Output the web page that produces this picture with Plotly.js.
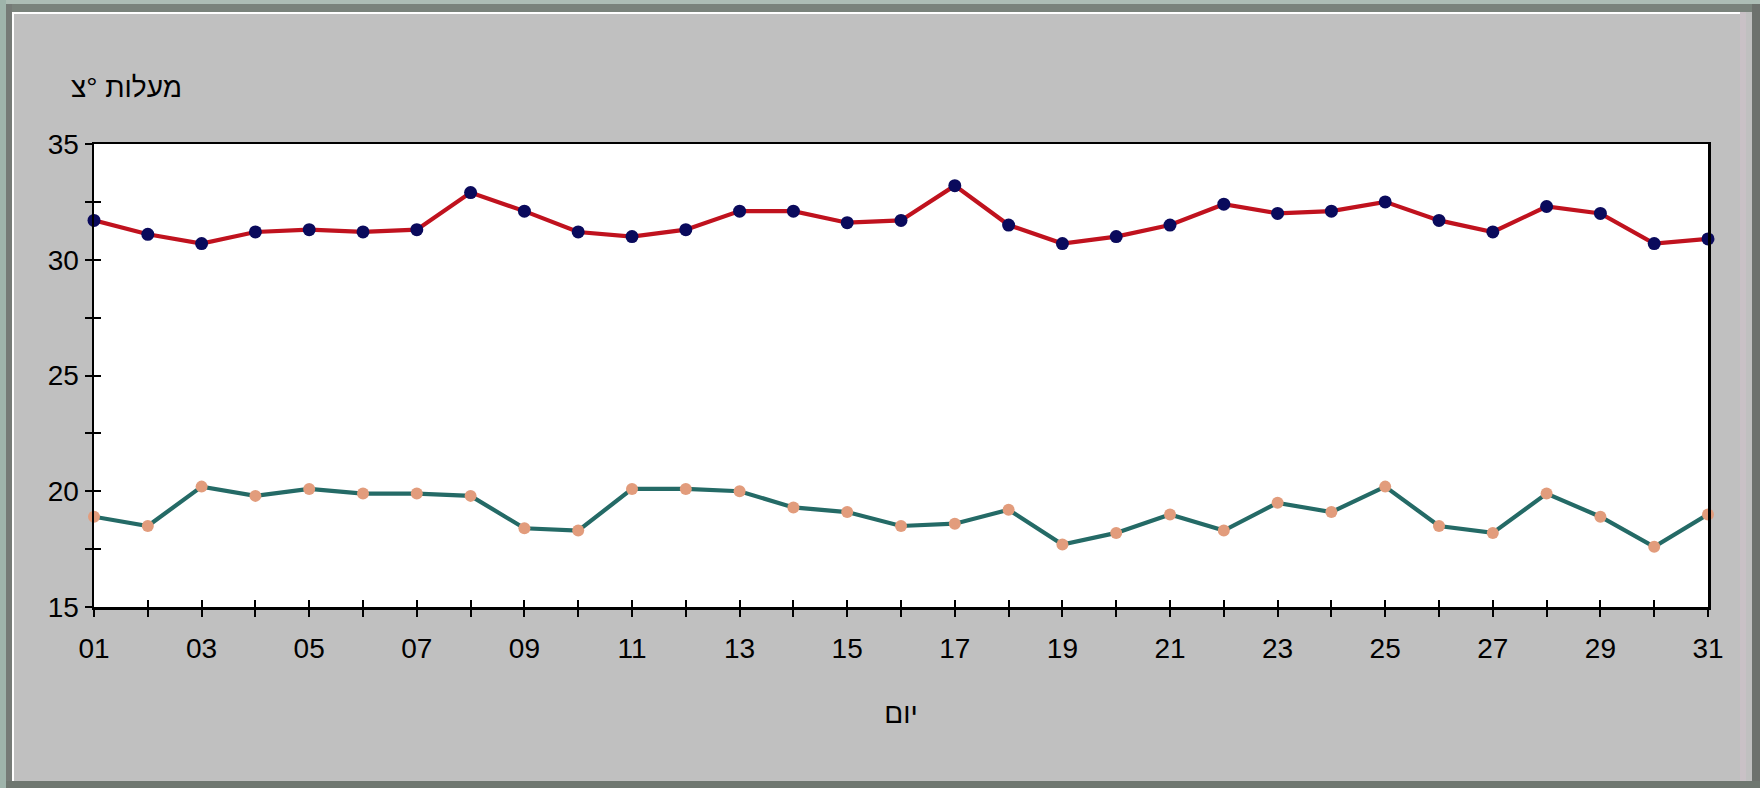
<!DOCTYPE html>
<html>
<head>
<meta charset="utf-8">
<script src="https://cdn.plot.ly/plotly-3.0.1.min.js"></script>
<style>
  html, body { margin: 0; padding: 0; background: #c0c0c0; }
  #wrap { position: relative; width: 1760px; height: 788px; overflow: hidden; }
  #chart { position: absolute; left: 0; top: 0; width: 1760px; height: 788px; }
  .edge { position: absolute; pointer-events: none; }
</style>
</head>
<body>
<div id="wrap">
  <div id="chart"></div>
  <div class="edge" style="left:0;top:0;width:1760px;height:4px;background:#adbdb5;"></div>
  <div class="edge" style="left:0;top:4px;width:1760px;height:8px;background:#7a837c;"></div>
  <div class="edge" style="left:0;top:0;width:6px;height:788px;background:#9fb4ab;"></div>
  <div class="edge" style="left:6px;top:4px;width:6px;height:784px;background:#767b77;"></div>
  <div class="edge" style="left:12px;top:12px;width:1728px;height:2px;background:#ffffff;"></div>
  <div class="edge" style="left:12px;top:12px;width:2px;height:769px;background:#ffffff;"></div>
  <div class="edge" style="left:1740px;top:12px;width:6px;height:769px;background:#c9c1c6;"></div>
  <div class="edge" style="left:1752px;top:4px;width:8px;height:784px;background:#6d716d;"></div>
  <div class="edge" style="left:6px;top:781px;width:1754px;height:7px;background:#6f7770;"></div>
</div>
<script>
const days = [1,2,3,4,5,6,7,8,9,10,11,12,13,14,15,16,17,18,19,20,21,22,23,24,25,26,27,28,29,30,31];
const dayLabels = ['01','','03','','05','','07','','09','','11','','13','','15','','17','','19','','21','','23','','25','','27','','29','','31'];
const maxTemp = [31.7,31.1,30.7,31.2,31.3,31.2,31.3,32.9,32.1,31.2,31.0,31.3,32.1,32.1,31.6,31.7,33.2,31.5,30.7,31.0,31.5,32.4,32.0,32.1,32.5,31.7,31.2,32.3,32.0,30.7,30.9];
const minTemp = [18.9,18.5,20.2,19.8,20.1,19.9,19.9,19.8,18.4,18.3,20.1,20.1,20.0,19.3,19.1,18.5,18.6,19.2,17.7,18.2,19.0,18.3,19.5,19.1,20.2,18.5,18.2,19.9,18.9,17.6,19.0];
const yTickVals = [15,17.5,20,22.5,25,27.5,30,32.5,35];
const yTickText = ['15','','20','','25','','30','','35'];
const yTitle = 'מעלות °צ';
const xTitle = 'יום';

const font = {family: '"Liberation Sans", Arial, "DejaVu Sans", sans-serif', size: 28, color: '#000000'};

const traces = [
  {
    x: days, y: maxTemp, type: 'scatter', mode: 'lines+markers',
    line: {color: '#c0121e', width: 4.2},
    marker: {color: '#0a0a5c', size: 13},
    cliponaxis: false, hoverinfo: 'skip', xaxis: 'x', yaxis: 'y'
  },
  {
    x: days, y: minTemp, type: 'scatter', mode: 'lines+markers',
    line: {color: '#246a66', width: 4.2},
    marker: {color: '#e29c7c', size: 12},
    cliponaxis: false, hoverinfo: 'skip', xaxis: 'x2', yaxis: 'y2'
  }
];

const axisCommon = {
  showgrid: false, zeroline: false, fixedrange: true,
  tickcolor: '#000000', tickwidth: 2, ticklen: 7
};

const layout = {
  width: 1760, height: 788,
  margin: {l: 94, r: 52, t: 144, b: 181},
  paper_bgcolor: '#c0c0c0',
  plot_bgcolor: '#ffffff',
  showlegend: false,
  font: font,
  xaxis: Object.assign({}, axisCommon, {
    range: [1, 31], tickmode: 'array', tickvals: days, ticktext: dayLabels,
    ticks: 'outside', showline: true, mirror: true, linecolor: '#000000', linewidth: 2.5,
    tickfont: font, automargin: false, ticklabelstandoff: 8,
    title: {text: xTitle, font: font, standoff: 41}
  }),
  yaxis: Object.assign({}, axisCommon, {
    range: [15, 35], tickmode: 'array', tickvals: yTickVals, ticktext: yTickText,
    ticks: 'outside', showline: true, mirror: true, linecolor: '#000000', linewidth: 2.5,
    tickfont: font, automargin: false
  }),
  xaxis2: Object.assign({}, axisCommon, {
    range: [1, 31], tickmode: 'array', tickvals: days, ticktext: dayLabels,
    ticks: 'inside', showline: false, showticklabels: false,
    overlaying: 'x', anchor: 'y2', side: 'bottom'
  }),
  yaxis2: Object.assign({}, axisCommon, {
    range: [15, 35], tickmode: 'array', tickvals: yTickVals, ticktext: yTickText,
    ticks: 'inside', showline: false, showticklabels: false,
    overlaying: 'y', anchor: 'x2', side: 'left'
  }),
  annotations: [
    {
      text: yTitle, xref: 'paper', yref: 'paper', x: 0.0204, y: 1.123,
      xanchor: 'center', yanchor: 'middle', showarrow: false, font: font
    }
  ]
};

Plotly.newPlot('chart', traces, layout, {staticPlot: true, displayModeBar: false});
</script>
</body>
</html>
